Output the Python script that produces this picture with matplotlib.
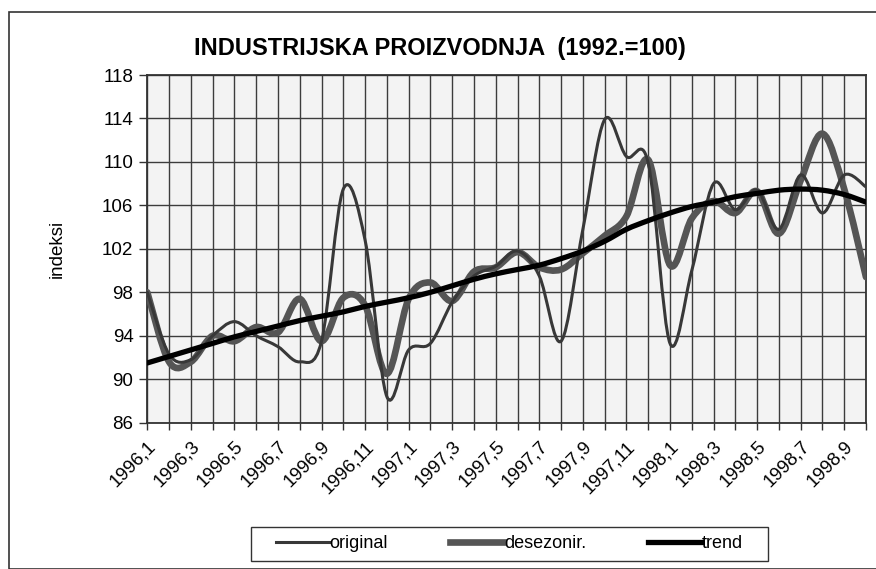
import numpy as np
import matplotlib
matplotlib.use('Agg')
import matplotlib.pyplot as plt
from matplotlib.path import Path
from matplotlib.patches import PathPatch, Rectangle
from matplotlib.lines import Line2D

plt.rcParams['font.family'] = ['Liberation Sans', 'DejaVu Sans']

months = ['1996,%d' % m for m in range(1, 13)] + \
         ['1997,%d' % m for m in range(1, 13)] + \
         ['1998,%d' % m for m in range(1, 11)]

original = [98.0, 92.3, 91.8, 94.0, 95.3, 94.0, 93.0, 91.6, 93.5, 107.5,
            102.8, 88.4, 92.7, 93.3, 97.1, 99.5, 100.4, 101.8, 99.5, 93.5,
            103.8, 113.9, 110.5, 109.9, 93.3, 100.0, 108.0, 105.6, 107.4, 103.8,
            108.8, 105.3, 108.8, 107.7]
desezonir = [98.0, 91.6, 91.6, 94.0, 93.5, 94.8, 94.3, 97.4, 93.5, 97.5,
             96.8, 90.5, 97.4, 98.9, 97.2, 99.9, 100.3, 101.7, 100.3, 100.1,
             101.6, 103.2, 105.0, 110.2, 100.5, 104.8, 106.4, 105.3, 107.3, 103.4,
             108.3, 112.6, 107.5, 99.4]
trend = [91.5, 92.1, 92.7, 93.3, 93.9, 94.4, 94.9, 95.4, 95.8, 96.2,
         96.7, 97.1, 97.5, 98.0, 98.6, 99.2, 99.7, 100.1, 100.5, 101.1,
         101.8, 102.7, 103.8, 104.6, 105.3, 105.9, 106.3, 106.8, 107.1, 107.4,
         107.5, 107.4, 107.0, 106.3]


def smooth_path(y):
    # bezier through the points, like the smoothed lines of the original chart
    x = np.arange(len(y), dtype=float)
    p = np.column_stack((x, np.asarray(y, dtype=float)))
    verts = [p[0]]
    codes = [Path.MOVETO]
    n = len(p)
    for i in range(n - 1):
        p0 = p[i - 1] if i > 0 else p[i]
        p3 = p[i + 2] if i + 2 < n else p[i + 1]
        c1 = p[i] + (p[i + 1] - p0) / 6.0
        c2 = p[i + 1] - (p3 - p[i]) / 6.0
        verts += [c1, c2, p[i + 1]]
        codes += [Path.CURVE4] * 3
    return Path(verts, codes)


fig = plt.figure(figsize=(8.76, 5.69), dpi=100)
fig.patches.append(Rectangle((9/876, 0), 1.0, 1 - 12/569, transform=fig.transFigure,
                             fill=False, edgecolor='#333333', lw=1.2))
# legend box
fig.patches.append(Rectangle((251/876, 1 - 561/569), 517/876, 34/569, transform=fig.transFigure,
                             fill=False, edgecolor='#333333', lw=1.0))

ax = fig.add_axes([147.3/876, 1 - 422.7/569, (866 - 147.3)/876, (422.7 - 75)/569])
ax.set_facecolor('#f3f3f3')

styles = [(original, '#383838', 2.2, 'original'),
          (desezonir, '#555555', 4.8, 'desezonir.'),
          (trend, '#000000', 3.8, 'trend')]
handles = []
for data, col, lw, name in styles[1:2] + styles[0:1] + styles[2:]:
    ax.add_patch(PathPatch(smooth_path(data), fill=False, edgecolor=col, lw=lw,
                           capstyle='round', joinstyle='round', zorder=3))
for data, col, lw, name in styles:
    handles.append(Line2D([], [], color=col, lw=lw, label=name))

ax.set_xlim(0, len(months) - 1)
ax.set_ylim(86, 118)
ax.set_yticks(np.arange(86, 119, 4))
ax.set_xticks(np.arange(len(months)))
ax.set_xticklabels([m if i % 2 == 0 else '' for i, m in enumerate(months)],
                   rotation=45, ha='right', rotation_mode='anchor', fontsize=13.5)
ax.tick_params(axis='y', labelsize=13.5, length=6, width=1, color='#333333', pad=4)
ax.tick_params(axis='x', length=5, width=1, color='#333333', pad=6)
ax.grid(True, color='#3c3c3c', lw=1.0)
ax.set_axisbelow(True)
for s in ax.spines.values():
    s.set_color('#333333')
    s.set_linewidth(1.3)
ax.set_ylabel('indeksi', fontsize=13.5)
ax.yaxis.set_label_coords(-0.114, 0.5)

fig.text(440/876, 1 - 48/569, 'INDUSTRIJSKA PROIZVODNJA  (1992.=100)',
         ha='center', va='center', fontsize=17, fontweight='bold')

leg = fig.legend(handles=handles, loc='center', bbox_to_anchor=(509.5/876, 1 - 544/569),
                 ncol=3, frameon=False, fontsize=13, handlelength=2.9,
                 handletextpad=0.05, columnspacing=3.45, borderpad=0.3)

fig.savefig('out.png', dpi=100)
